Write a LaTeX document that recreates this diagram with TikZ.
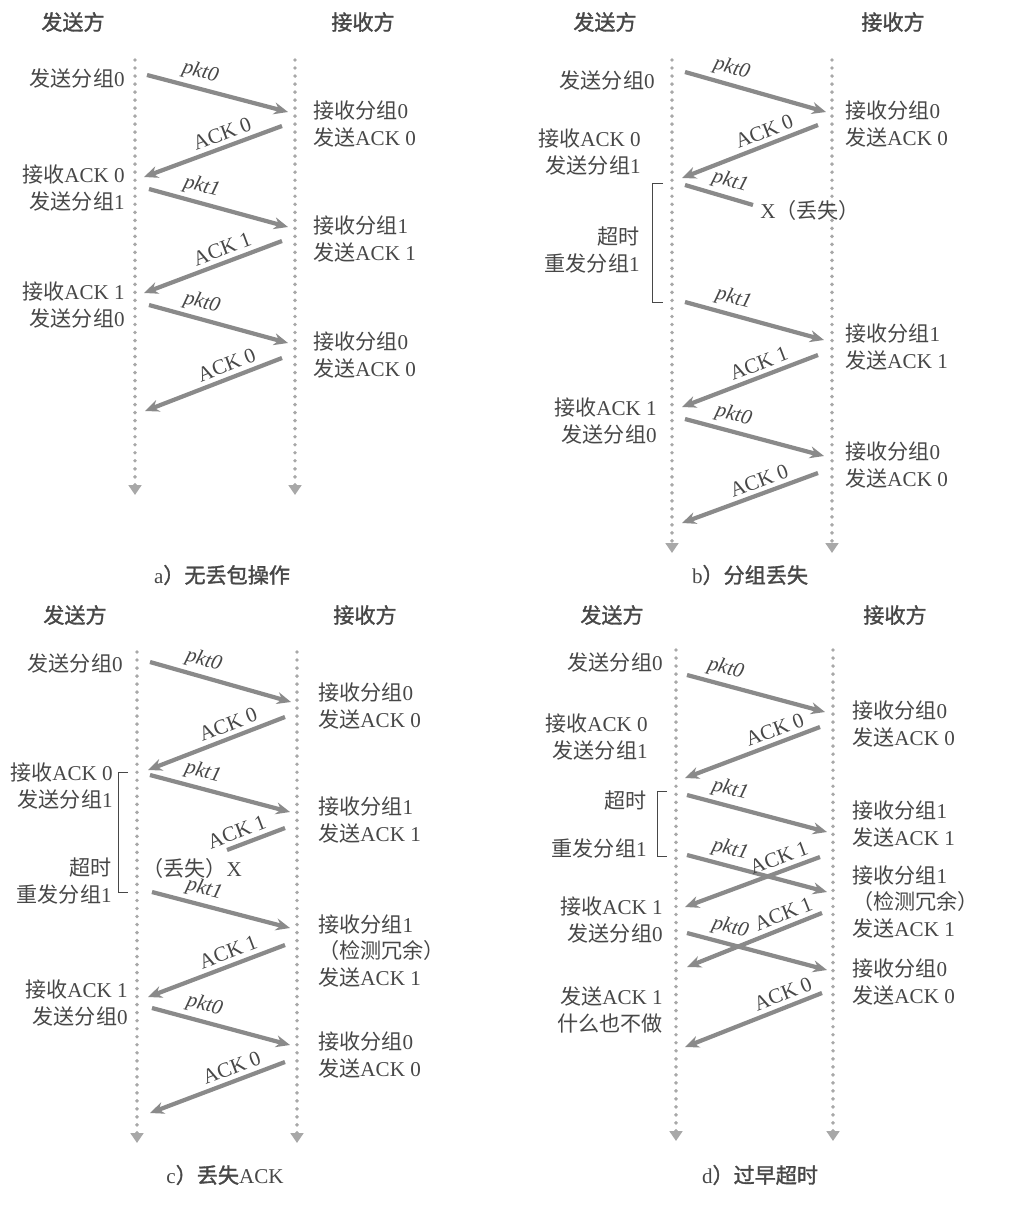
\documentclass[tikz,border=0pt]{standalone}
\usepackage{fontspec}
\setmainfont{Liberation Serif}
\newfontfamily\cjk{Noto Sans CJK SC}
\newfontfamily\cjkhead[FakeBold=1.5]{Noto Sans CJK SC}
\usepackage{tikz}
\usetikzlibrary{arrows.meta,positioning}
\usepackage{xcolor}
\definecolor{LineGray}{HTML}{A8A8A8}
\definecolor{ArrowGray}{HTML}{8A8A8A}
\definecolor{TextGray}{HTML}{474747}
\newcommand{\zh}[1]{{\cjk #1}}
\tikzset{
    % Dotted time line of one side
    lifeline/.style={
        draw=LineGray,
        line width=2.8pt,
        line cap=round,
        dash pattern=on 0pt off 5.7pt,
        -{Triangle[length=7pt,width=9pt]}
    },
    % Message arrow
    msgarrow/.style={
        -{Stealth[length=10pt,width=8.5pt]},
        line width=3pt,
        draw=ArrowGray
    },
    % Message that gets lost
    lostmsg/.style={
        line width=3pt,
        draw=ArrowGray
    },
    % Timeout bracket
    bracket/.style={
        draw=TextGray,
        line width=0.6pt
    },
    % Base text style
    basetext/.style={
        text=TextGray,
        inner sep=0pt,
        font=\fontsize{15}{19}\selectfont
    },
    % Note left of the sender line
    leftnote/.style={
        basetext,
        anchor=east,
        align=right
    },
    % Note right of the receiver line
    rightnote/.style={
        basetext,
        anchor=west,
        align=left
    },
    % Label on an ACK arrow
    acklabel/.style={
        basetext,
        sloped,
        above=3pt
    },
    % Label on a packet arrow
    pktlabel/.style={
        acklabel,
        font=\fontsize{15}{19}\selectfont\itshape
    },
    % Column header
    header/.style={
        text=TextGray,
        font=\cjkhead\fontsize{15}{18}\selectfont
    },
    % Panel caption
    caption/.style={
        text=TextGray,
        font=\fontsize{15}{18}\selectfont
    }
}

\begin{document}
\begin{tikzpicture}[x=0.025cm, y=-0.025cm]
\useasboundingbox (0,0) rectangle (1017,1210);

% a) no loss
\node[header] (a-hs) at (73,22) {发送方};
\node[header] (a-hr) at (363,22) {接收方};
\coordinate (a-st) at (135,60); \coordinate (a-sb) at (135,495);
\coordinate (a-rt) at (295,60); \coordinate (a-rb) at (295,495);
\draw[lifeline] (a-st) -- (a-sb);
\draw[lifeline] (a-rt) -- (a-rb);

\path (147,75) coordinate (a-s1) (288,112) coordinate (a-r1)
      (282,126) coordinate (a-r2) (144,177) coordinate (a-s2)
      (149,189) coordinate (a-s3) (288,227) coordinate (a-r3)
      (282,241) coordinate (a-r4) (144,293) coordinate (a-s4)
      (149,305) coordinate (a-s5) (288,343) coordinate (a-r5)
      (282,358) coordinate (a-r6) (145,411) coordinate (a-s6);
\draw[msgarrow] (a-s1) -- node[pktlabel, pos=0.35] {pkt0} (a-r1);
\draw[msgarrow] (a-r2) -- node[acklabel, pos=0.4] {ACK 0} (a-s2);
\draw[msgarrow] (a-s3) -- node[pktlabel, pos=0.35] {pkt1} (a-r3);
\draw[msgarrow] (a-r4) -- node[acklabel, pos=0.4] {ACK 1} (a-s4);
\draw[msgarrow] (a-s5) -- node[pktlabel, pos=0.35] {pkt0} (a-r5);
\draw[msgarrow] (a-r6) -- node[acklabel, pos=0.37] {ACK 0} (a-s6);

\node[leftnote] (a-l1) at (125,78) {\zh{发送分组}0};
\node[leftnote] (a-l2) at (125,188) {\zh{接收}ACK 0\\\zh{发送分组}1};
\node[leftnote] (a-l3) at (125,305) {\zh{接收}ACK 1\\\zh{发送分组}0};
\node[rightnote] (a-n1) at (313,124) {\zh{接收分组}0\\\zh{发送}ACK 0};
\node[rightnote] (a-n2) at (313,239) {\zh{接收分组}1\\\zh{发送}ACK 1};
\node[rightnote] (a-n3) at (313,355) {\zh{接收分组}0\\\zh{发送}ACK 0};
\node[caption] (a-cap) at (222,575) {a{\cjkhead ）无丢包操作}};

% b) packet loss
\node[header] (b-hs) at (605,22) {发送方};
\node[header] (b-hr) at (893,22) {接收方};
\coordinate (b-st) at (672,60); \coordinate (b-sb) at (672,553);
\coordinate (b-rt) at (832,60); \coordinate (b-rb) at (832,553);
\draw[lifeline] (b-st) -- (b-sb);
\draw[lifeline] (b-rt) -- (b-rb);

\path (685,72) coordinate (b-s1) (826,112) coordinate (b-r1)
      (818,125) coordinate (b-r2) (682,178) coordinate (b-s2)
      (685,185) coordinate (b-s3) (753,205) coordinate (b-x3)
      (685,302) coordinate (b-s4) (824,340) coordinate (b-r4)
      (818,355) coordinate (b-r5) (682,407) coordinate (b-s5)
      (685,419) coordinate (b-s6) (824,456) coordinate (b-r6)
      (818,473) coordinate (b-r7) (682,523) coordinate (b-s7);
\draw[msgarrow] (b-s1) -- node[pktlabel, pos=0.3] {pkt0} (b-r1);
\draw[msgarrow] (b-r2) -- node[acklabel, pos=0.36] {ACK 0} (b-s2);
\draw[lostmsg] (b-s3) -- node[pktlabel, pos=0.6] {pkt1} (b-x3);
\draw[msgarrow] (b-s4) -- node[pktlabel, pos=0.32] {pkt1} (b-r4);
\draw[msgarrow] (b-r5) -- node[acklabel, pos=0.4] {ACK 1} (b-s5);
\draw[msgarrow] (b-s6) -- node[pktlabel, pos=0.32] {pkt0} (b-r6);
\draw[msgarrow] (b-r7) -- node[acklabel, pos=0.4] {ACK 0} (b-s7);
\node[rightnote] (b-lost) at (760,210) {X\zh{（丢失）}};

\coordinate (b-bt) at (663,183); \coordinate (b-bb) at (663,302);
\draw[bracket] (b-bt) -- ++(-11,0) |- (b-bb);

\node[leftnote] (b-l1) at (655,80) {\zh{发送分组}0};
\node[leftnote] (b-l2) at (641,152) {\zh{接收}ACK 0\\\zh{发送分组}1};
\node[leftnote] (b-l3) at (640,250) {\zh{超时}\\\zh{重发分组}1};
\node[leftnote] (b-l4) at (657,421) {\zh{接收}ACK 1\\\zh{发送分组}0};
\node[rightnote] (b-n1) at (845,124) {\zh{接收分组}0\\\zh{发送}ACK 0};
\node[rightnote] (b-n2) at (845,347) {\zh{接收分组}1\\\zh{发送}ACK 1};
\node[rightnote] (b-n3) at (845,465) {\zh{接收分组}0\\\zh{发送}ACK 0};
\node[caption] (b-cap) at (750,575) {b{\cjkhead ）分组丢失}};

% c) lost ACK
\node[header] (c-hs) at (75,615) {发送方};
\node[header] (c-hr) at (365,615) {接收方};
\coordinate (c-st) at (137,652); \coordinate (c-sb) at (137,1143);
\coordinate (c-rt) at (297,652); \coordinate (c-rb) at (297,1143);
\draw[lifeline] (c-st) -- (c-sb);
\draw[lifeline] (c-rt) -- (c-rb);

\path (150,662) coordinate (c-s1) (291,702) coordinate (c-r1)
      (285,717) coordinate (c-r2) (148,770) coordinate (c-s2)
      (150,775) coordinate (c-s3) (290,812) coordinate (c-r3)
      (285,828) coordinate (c-r4) (227,850) coordinate (c-x4)
      (152,892) coordinate (c-s5) (290,928) coordinate (c-r5)
      (285,945) coordinate (c-r6) (148,997) coordinate (c-s6)
      (152,1008) coordinate (c-s7) (290,1045) coordinate (c-r7)
      (285,1062) coordinate (c-r8) (150,1113) coordinate (c-s8);
\draw[msgarrow] (c-s1) -- node[pktlabel, pos=0.35] {pkt0} (c-r1);
\draw[msgarrow] (c-r2) -- node[acklabel, pos=0.38] {ACK 0} (c-s2);
\draw[msgarrow] (c-s3) -- node[pktlabel, pos=0.35] {pkt1} (c-r3);
\draw[lostmsg] (c-r4) -- node[acklabel, pos=0.75] {ACK 1} (c-x4);
\draw[msgarrow] (c-s5) -- node[pktlabel, pos=0.35] {pkt1} (c-r5);
\draw[msgarrow] (c-r6) -- node[acklabel, pos=0.38] {ACK 1} (c-s6);
\draw[msgarrow] (c-s7) -- node[pktlabel, pos=0.35] {pkt0} (c-r7);
\draw[msgarrow] (c-r8) -- node[acklabel, pos=0.36] {ACK 0} (c-s8);
\node[basetext] (c-lost) at (192,868) {\zh{（丢失）}X};

\coordinate (c-bt) at (128,772); \coordinate (c-bb) at (128,892);
\draw[bracket] (c-bt) -- ++(-10,0) |- (c-bb);

\node[leftnote] (c-l1) at (123,663) {\zh{发送分组}0};
\node[leftnote] (c-l2) at (113,786) {\zh{接收}ACK 0\\\zh{发送分组}1};
\node[leftnote] (c-l3) at (112,881) {\zh{超时}\\\zh{重发分组}1};
\node[leftnote] (c-l4) at (128,1003) {\zh{接收}ACK 1\\\zh{发送分组}0};
\node[rightnote] (c-n1) at (318,706) {\zh{接收分组}0\\\zh{发送}ACK 0};
\node[rightnote] (c-n2) at (318,820) {\zh{接收分组}1\\\zh{发送}ACK 1};
\node[rightnote] (c-n3) at (318,951) {\zh{接收分组}1\\\zh{（检测冗余）}\\\zh{发送}ACK 1};
\node[rightnote] (c-n4) at (318,1055) {\zh{接收分组}0\\\zh{发送}ACK 0};
\node[caption] (c-cap) at (225,1175) {c{\cjkhead ）丢失}ACK};

% d) premature timeout
\node[header] (d-hs) at (612,615) {发送方};
\node[header] (d-hr) at (895,615) {接收方};
\coordinate (d-st) at (676,650); \coordinate (d-sb) at (676,1141);
\coordinate (d-rt) at (833,650); \coordinate (d-rb) at (833,1141);
\draw[lifeline] (d-st) -- (d-sb);
\draw[lifeline] (d-rt) -- (d-rb);

\path (687,675) coordinate (d-s1) (825,712) coordinate (d-r1)
      (820,727) coordinate (d-r2) (685,778) coordinate (d-s2)
      (687,795) coordinate (d-s3) (827,832) coordinate (d-r3)
      (687,855) coordinate (d-s4) (827,892) coordinate (d-r4)
      (820,857) coordinate (d-r5) (685,907) coordinate (d-s5)
      (687,933) coordinate (d-s6) (827,970) coordinate (d-r6)
      (822,913) coordinate (d-r7) (687,967) coordinate (d-s7)
      (822,993) coordinate (d-r8) (685,1047) coordinate (d-s8);
\draw[msgarrow] (d-s1) -- node[pktlabel, pos=0.25] {pkt0} (d-r1);
\draw[msgarrow] (d-r2) -- node[acklabel, pos=0.3] {ACK 0} (d-s2);
\draw[msgarrow] (d-s3) -- node[pktlabel, pos=0.28] {pkt1} (d-r3);
\draw[msgarrow] (d-s4) -- node[pktlabel, pos=0.28] {pkt1} (d-r4);
\draw[msgarrow] (d-r5) -- node[acklabel, pos=0.27] {ACK 1} (d-s5);
\draw[msgarrow] (d-s6) -- node[pktlabel, pos=0.28] {pkt0} (d-r6);
\draw[msgarrow] (d-r7) -- node[acklabel, pos=0.25] {ACK 1} (d-s7);
\draw[msgarrow] (d-r8) -- node[acklabel, pos=0.25] {ACK 0} (d-s8);

\coordinate (d-bt) at (667,791); \coordinate (d-bb) at (667,856);
\draw[bracket] (d-bt) -- ++(-10,0) |- (d-bb);

\node[leftnote] (d-l1) at (663,662) {\zh{发送分组}0};
\node[leftnote] (d-l2) at (648,737) {\zh{接收}ACK 0\\\zh{发送分组}1};
\node[leftnote] (d-l3) at (647,800) {\zh{超时}};
\node[leftnote] (d-l4) at (647,848) {\zh{重发分组}1};
\node[leftnote] (d-l5) at (663,920) {\zh{接收}ACK 1\\\zh{发送分组}0};
\node[leftnote] (d-l6) at (663,1010) {\zh{发送}ACK 1\\\zh{什么也不做}};
\node[rightnote] (d-n1) at (852,724) {\zh{接收分组}0\\\zh{发送}ACK 0};
\node[rightnote] (d-n2) at (852,824) {\zh{接收分组}1\\\zh{发送}ACK 1};
\node[rightnote] (d-n3) at (852,902) {\zh{接收分组}1\\\zh{（检测冗余）}\\\zh{发送}ACK 1};
\node[rightnote] (d-n4) at (852,982) {\zh{接收分组}0\\\zh{发送}ACK 0};
\node[caption] (d-cap) at (760,1175) {d{\cjkhead ）过早超时}};
\end{tikzpicture}
\end{document}
